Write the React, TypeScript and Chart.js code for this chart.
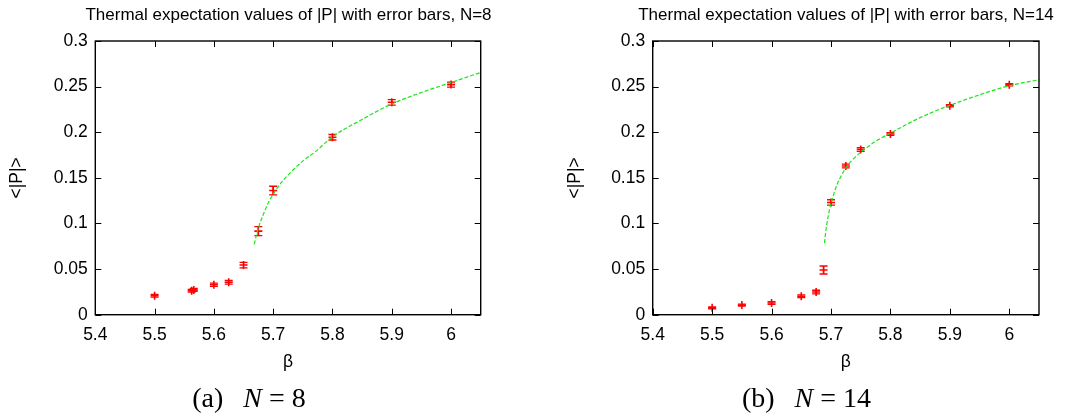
import React, { useEffect, useRef } from "react";
import { Chart, registerables } from "chart.js";

Chart.register(...registerables);

// ---- axis ticks ----
const xTickValues = [5.4, 5.5, 5.6, 5.7, 5.8, 5.9, 6.0];
const xTickLabels = ["5.4", "5.5", "5.6", "5.7", "5.8", "5.9", "6"];
const yTickValues = [0, 0.05, 0.1, 0.15, 0.2, 0.25, 0.3];
const yTickLabels = ["0", "0.05", "0.1", "0.15", "0.2", "0.25", "0.3"];

// ---- N = 8 data ----
const betaN8 = [5.5, 5.5625, 5.566, 5.6, 5.625, 5.65, 5.675, 5.7, 5.8, 5.9, 6.0];
const polyN8 = [0.0208, 0.0262, 0.0272, 0.0328, 0.0355, 0.0544, 0.0916, 0.1361, 0.1945, 0.2328, 0.2522];
const errN8 = [0.0015, 0.0015, 0.0015, 0.0018, 0.002, 0.003, 0.005, 0.0047, 0.003, 0.003, 0.0027];
const fitBetaN8 = [5.668, 5.672, 5.676, 5.681, 5.686, 5.692, 5.7, 5.714, 5.731, 5.753, 5.77, 5.8, 5.85, 5.9, 5.95, 6.0, 6.05];
const fitPolyN8 = [0.077, 0.088, 0.097, 0.106, 0.114, 0.123, 0.132, 0.145, 0.157, 0.17, 0.178, 0.195, 0.214, 0.231, 0.2435, 0.2545, 0.2655];

// ---- N = 14 data ----
const betaN14 = [5.5, 5.55, 5.6, 5.65, 5.675, 5.6875, 5.7, 5.725, 5.75, 5.8, 5.9, 6.0];
const polyN14 = [0.0075, 0.0105, 0.0128, 0.0202, 0.0248, 0.049, 0.123, 0.163, 0.181, 0.198, 0.229, 0.252];
const errN14 = [0.001, 0.001, 0.0015, 0.0015, 0.002, 0.0044, 0.003, 0.002, 0.002, 0.0015, 0.0012, 0.0012];
const fitBetaN14 = [5.689, 5.692, 5.695, 5.7, 5.705, 5.711, 5.718, 5.724, 5.735, 5.75, 5.775, 5.8, 5.85, 5.9, 5.95, 6.0, 6.05];
const fitPolyN14 = [0.0785, 0.095, 0.107, 0.122, 0.133, 0.144, 0.153, 0.16, 0.169, 0.178, 0.19, 0.199, 0.216, 0.2295, 0.241, 0.251, 0.2575];

const SANS = "'Liberation Sans', Arial, Helvetica, sans-serif";
const SERIF = "'Liberation Serif', 'Times New Roman', serif";
const RED = "#ff0000";
const GREEN = "#19e619";

const framePlugin = {
  id: "gnuFrame",
  afterDraw(chart: any) {
    const { ctx, chartArea: a, scales } = chart;
    const xs = scales.x;
    const ys = scales.y;
    const L = 6;
    ctx.save();
    ctx.strokeStyle = "#000";
    ctx.lineWidth = 1;
    ctx.beginPath();
    for (const v of xTickValues) {
      const px = Math.round(xs.getPixelForValue(v)) + 0.5;
      ctx.moveTo(px, a.bottom);
      ctx.lineTo(px, a.bottom - L);
      ctx.moveTo(px, a.top);
      ctx.lineTo(px, a.top + L);
    }
    for (const v of yTickValues) {
      const py = Math.round(ys.getPixelForValue(v)) + 0.5;
      ctx.moveTo(a.left, py);
      ctx.lineTo(a.left + L, py);
      ctx.moveTo(a.right, py);
      ctx.lineTo(a.right - L, py);
    }
    ctx.stroke();
    ctx.lineWidth = 1.4;
    ctx.strokeRect(a.left, a.top, a.right - a.left, a.bottom - a.top);
    ctx.restore();
  },
};

const errorBarPlugin = {
  id: "errBars",
  beforeDatasetsDraw(chart: any) {
    const { ctx, scales } = chart;
    const xs = scales.x;
    const ys = scales.y;
    chart.data.datasets.forEach((ds: any) => {
      const errs = ds.errors;
      if (!errs) return;
      ctx.save();
      ctx.strokeStyle = ds.borderColor;
      ctx.lineWidth = 1.3;
      ds.data.forEach((p: any, i: number) => {
        const px = xs.getPixelForValue(p.x);
        const y1 = ys.getPixelForValue(p.y - errs[i]);
        const y2 = ys.getPixelForValue(p.y + errs[i]);
        ctx.beginPath();
        ctx.moveTo(px, y1);
        ctx.lineTo(px, y2);
        ctx.moveTo(px - 4, y1);
        ctx.lineTo(px + 4, y1);
        ctx.moveTo(px - 4, y2);
        ctx.lineTo(px + 4, y2);
        ctx.stroke();
      });
      ctx.restore();
    });
  },
};

type PanelProps = {
  left: number;
  width: number;
  title: string;
  beta: number[];
  poly: number[];
  err: number[];
  fitBeta: number[];
  fitPoly: number[];
  yAxisWidth: number;
  rightAxisWidth: number;
  yTitlePad: number;
};

const CH = 414;

function Panel(props: PanelProps) {
  const ref = useRef<HTMLCanvasElement | null>(null);
  useEffect(() => {
    if (!ref.current) return;
    const tickFont = { family: SANS, size: 17.5 };
    const chart = new Chart(ref.current, {
      type: "scatter",
      data: {
        datasets: [
          {
            type: "line",
            data: props.fitBeta.map((b, i) => ({ x: b, y: props.fitPoly[i] })),
            borderColor: GREEN,
            borderWidth: 1.2,
            borderDash: [4, 2],
            pointRadius: 0,
            cubicInterpolationMode: "monotone",
            fill: false,
            order: 0,
          } as any,
          {
            type: "scatter",
            data: props.beta.map((b, i) => ({ x: b, y: props.poly[i] })),
            errors: props.err,
            borderColor: RED,
            backgroundColor: RED,
            pointStyle: "cross",
            pointRadius: 4,
            borderWidth: 1.6,
            order: 1,
          } as any,
        ],
      },
      options: {
        animation: false,
        responsive: false,
        maintainAspectRatio: false,
        events: [],
        layout: { padding: { left: 0, right: 0, top: 0, bottom: CH - 314.7 - 60 } },
        plugins: {
          legend: { display: false },
          tooltip: { enabled: false },
          title: {
            display: true,
            text: props.title,
            fullSize: true,
            color: "#000",
            font: { family: SANS, size: 17, weight: "normal" },
            padding: { top: 5, bottom: 15.6 },
          },
        },
        scales: {
          x: {
            type: "linear",
            min: 5.4,
            max: 6.05,
            afterBuildTicks: (s: any) => {
              s.ticks = xTickValues.map((v) => ({ value: v }));
            },
            afterFit: (s: any) => {
              s.height = 60;
            },
            grid: { display: false, drawTicks: false },
            border: { display: false },
            ticks: {
              callback: (_v: any, i: number) => xTickLabels[i],
              font: tickFont,
              color: "#000",
              padding: 10,
              maxRotation: 0,
              autoSkip: false,
            },
            title: {
              display: true,
              text: "β",
              font: tickFont,
              color: "#000",
              padding: { top: 0, bottom: 2 },
            },
          },
          y: {
            type: "linear",
            min: 0,
            max: 0.3,
            afterBuildTicks: (s: any) => {
              s.ticks = yTickValues.map((v) => ({ value: v }));
            },
            afterFit: (s: any) => {
              s.width = props.yAxisWidth;
            },
            grid: { display: false, drawTicks: false },
            border: { display: false },
            ticks: {
              callback: (_v: any, i: number) => yTickLabels[i],
              font: tickFont,
              color: "#000",
              padding: 7.5,
              autoSkip: false,
            },
            title: {
              display: true,
              text: "<|P|>",
              font: tickFont,
              color: "#000",
              padding: { top: props.yTitlePad, bottom: 0 },
            },
          },
          yRight: {
            type: "linear",
            position: "right",
            min: 0,
            max: 0.3,
            afterFit: (s: any) => {
              s.width = props.rightAxisWidth;
            },
            grid: { display: false, drawTicks: false },
            border: { display: false },
            ticks: { display: false },
            title: { display: false },
          },
        },
      } as any,
      plugins: [errorBarPlugin, framePlugin],
    });
    return () => chart.destroy();
  }, []);
  return (
    <canvas
      ref={ref}
      width={props.width}
      height={CH}
      style={{ position: "absolute", left: props.left, top: 0, width: props.width, height: CH }}
    />
  );
}

function Caption(props: { cx: number; label: string; n: string }) {
  return (
    <div
      style={{
        position: "absolute",
        left: props.cx,
        top: 383,
        transform: "translateX(-50%)",
        fontFamily: SERIF,
        fontSize: 28,
        lineHeight: "30px",
        whiteSpace: "nowrap",
        color: "#000",
      }}
    >
      {props.label}
      <span style={{ display: "inline-block", width: 20 }} />
      <i>N</i>
      <span style={{ margin: "0 7px" }}>=</span>
      {props.n}
    </div>
  );
}

export default function App() {
  return (
    <div
      style={{
        position: "fixed",
        left: 0,
        top: 0,
        width: 1090,
        height: 414,
        background: "#fff",
        overflow: "hidden",
      }}
    >
      <Panel
        left={0}
        width={577}
        title="Thermal expectation values of |P| with error bars, N=8"
        beta={betaN8}
        poly={polyN8}
        err={errN8}
        fitBeta={fitBetaN8}
        fitPoly={fitPolyN8}
        yAxisWidth={95.3}
        rightAxisWidth={577 - 480.7}
        yTitlePad={7}
      />
      <Panel
        left={545}
        width={602}
        title="Thermal expectation values of |P| with error bars, N=14"
        beta={betaN14}
        poly={polyN14}
        err={errN14}
        fitBeta={fitBetaN14}
        fitPoly={fitPolyN14}
        yAxisWidth={107.7}
        rightAxisWidth={602 - (1039 - 545)}
        yTitlePad={20}
      />
      <Caption cx={249} label="(a)" n="8" />
      <Caption cx={806.5} label="(b)" n="14" />
    </div>
  );
}
